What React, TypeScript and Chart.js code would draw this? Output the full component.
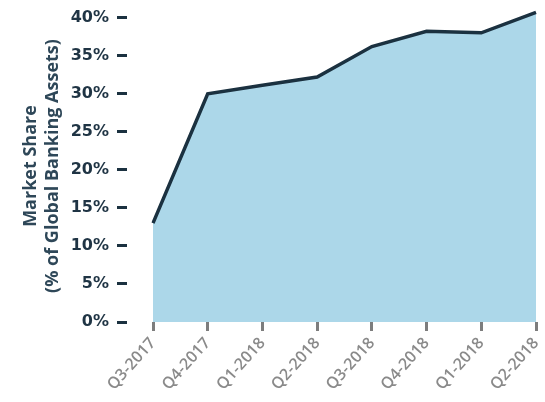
import React, { useEffect, useRef } from "react";
import { Chart, registerables } from "chart.js";

Chart.register(...registerables);

const quarters = ["Q3-2017", "Q4-2017", "Q1-2018", "Q2-2018", "Q3-2018", "Q4-2018", "Q1-2018", "Q2-2018"];
const marketShare = [13.0, 30.0, 31.1, 32.2, 36.2, 38.2, 38.0, 40.7];
const yTickValues = [0, 5, 10, 15, 20, 25, 30, 35, 40];
const yTitleLines = ["Market Share", "(% of Global Banking Assets)"];

export default function App() {
  const canvasRef = useRef<HTMLCanvasElement | null>(null);

  useEffect(() => {
    document.body.style.margin = "0";
    const canvas = canvasRef.current;
    if (!canvas) return;
    const chart = new Chart(canvas, {
      type: "line",
      data: {
        labels: quarters,
        datasets: [
          {
            data: marketShare,
            borderColor: "#1b3140",
            borderWidth: 3.5,
            backgroundColor: "#acd7e9",
            fill: "origin",
            pointRadius: 0,
            tension: 0,
            borderJoinStyle: "miter",
          },
        ],
      },
      options: {
        animation: false,
        responsive: false,
        maintainAspectRatio: false,
        layout: { padding: { top: 10, right: 9, left: 0, bottom: 0 } },
        plugins: { legend: { display: false }, tooltip: { enabled: false } },
        scales: {
          x: {
            offset: false,
            border: { display: false },
            grid: {
              drawOnChartArea: false,
              drawTicks: true,
              tickLength: 9,
              tickWidth: 3,
              tickColor: "#7d7d7d",
            },
            ticks: {
              autoSkip: false,
              minRotation: 48,
              maxRotation: 48,
              padding: 3,
              color: "#8a8a8a",
              font: { family: "Open Sans", size: 16, weight: "600" },
            },
            afterFit: (scale: any) => {
              scale.height = 80;
              scale.paddingLeft = 0;
              scale.paddingRight = 0;
            },
          },
          y: {
            min: 0,
            max: 41,
            border: { display: false },
            grid: {
              drawOnChartArea: false,
              drawTicks: true,
              tickLength: 36,
              tickWidth: 3,
              tickColor: "#1b3140",
              tickBorderDash: [10, 60],
            },
            afterBuildTicks: (scale: any) => {
              scale.ticks = yTickValues.map((v) => ({ value: v }));
            },
            ticks: {
              padding: 8,
              color: "#1f3444",
              font: { family: "DejaVu Sans", size: 16, weight: "bold" },
              callback: (v: any) => v + "%",
            },
            title: {
              display: true,
              text: yTitleLines,
              color: "#2e4758",
              padding: { top: 20, bottom: 4 },
              font: { family: "Open Sans", size: 18, weight: "bold", lineHeight: 1.2 },
            },
            afterFit: (scale: any) => {
              scale.width = 153;
              scale.paddingTop = 0;
              scale.paddingBottom = 0;
            },
          },
        },
      },
    });
    return () => chart.destroy();
  }, []);

  return (
    <div style={{ width: 545, height: 402 }}>
      <canvas ref={canvasRef} width={545} height={402} style={{ display: "block" }} />
    </div>
  );
}
